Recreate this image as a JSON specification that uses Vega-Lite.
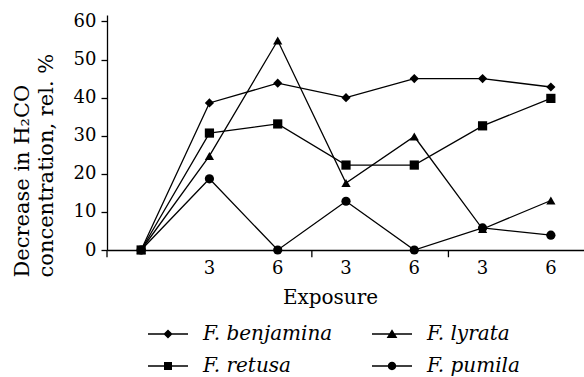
{
  "$schema": "https://vega.github.io/schema/vega-lite/v6.json",
  "autosize": "none",
  "width": 478,
  "height": 235,
  "padding": {"left": 107, "top": 15, "right": 0, "bottom": 127},
  "background": "white",
  "config": {
    "view": {"stroke": null},
    "font": "DejaVu Serif",
    "axis": {"domainColor": "black", "domainWidth": 1.3, "tickColor": "black", "labelColor": "black", "titleColor": "black", "labelFont": "DejaVu Serif", "titleFont": "DejaVu Serif", "titleFontWeight": "normal", "grid": false}
  },
  "datasets": {
    "series": [
      {"species": "F. benjamina", "exposure": "start", "value": 0},
      {"species": "F. benjamina", "exposure": "3a", "value": 38.6},
      {"species": "F. benjamina", "exposure": "6a", "value": 43.8},
      {"species": "F. benjamina", "exposure": "3b", "value": 40},
      {"species": "F. benjamina", "exposure": "6b", "value": 45},
      {"species": "F. benjamina", "exposure": "3c", "value": 45},
      {"species": "F. benjamina", "exposure": "6c", "value": 42.8},
      {"species": "F. lyrata", "exposure": "start", "value": 0},
      {"species": "F. lyrata", "exposure": "3a", "value": 24.7},
      {"species": "F. lyrata", "exposure": "6a", "value": 55},
      {"species": "F. lyrata", "exposure": "3b", "value": 17.6},
      {"species": "F. lyrata", "exposure": "6b", "value": 29.8},
      {"species": "F. lyrata", "exposure": "3c", "value": 5.5},
      {"species": "F. lyrata", "exposure": "6c", "value": 13},
      {"species": "F. retusa", "exposure": "start", "value": 0},
      {"species": "F. retusa", "exposure": "3a", "value": 30.7},
      {"species": "F. retusa", "exposure": "6a", "value": 33.1},
      {"species": "F. retusa", "exposure": "3b", "value": 22.3},
      {"species": "F. retusa", "exposure": "6b", "value": 22.3},
      {"species": "F. retusa", "exposure": "3c", "value": 32.6},
      {"species": "F. retusa", "exposure": "6c", "value": 39.8},
      {"species": "F. pumila", "exposure": "start", "value": 0},
      {"species": "F. pumila", "exposure": "3a", "value": 18.7},
      {"species": "F. pumila", "exposure": "6a", "value": 0},
      {"species": "F. pumila", "exposure": "3b", "value": 12.8},
      {"species": "F. pumila", "exposure": "6b", "value": 0},
      {"species": "F. pumila", "exposure": "3c", "value": 5.8},
      {"species": "F. pumila", "exposure": "6c", "value": 3.9}
    ],
    "ticks": [
      {"exposure": "start"},
      {"exposure": "3b"},
      {"exposure": "3c"}
    ]
  },
  "layer": [
    {
      "data": {"name": "ticks"},
      "mark": {"type": "rule", "color": "black", "strokeWidth": 1.3},
      "encoding": {
        "x": {"field": "exposure", "type": "ordinal", "bandPosition": 0},
        "y": {"datum": 0, "type": "quantitative"},
        "y2": {"datum": -1.9}
      }
    },
    {
      "data": {"name": "series"},
      "mark": {"type": "line", "color": "black", "strokeWidth": 1.3},
      "encoding": {
        "x": {"field": "exposure", "type": "ordinal", "sort": null},
        "y": {"field": "value", "type": "quantitative"},
        "detail": {"field": "species"}
      }
    },
    {
      "data": {"name": "series"},
      "mark": {"type": "point", "filled": true, "color": "black", "opacity": 1, "size": 85},
      "encoding": {
        "x": {"field": "exposure", "type": "ordinal"},
        "y": {"field": "value", "type": "quantitative"},
        "shape": {
          "field": "species",
          "type": "nominal",
          "scale": {"domain": ["F. benjamina", "F. lyrata", "F. retusa", "F. pumila"], "range": ["diamond", "triangle-up", "square", "circle"]},
          "legend": null
        }
      }
    },
    {
      "data": {"name": "series"},
      "transform": [{"filter": "datum.value < 0"}],
      "mark": {"type": "point", "filled": true, "color": "black", "opacity": 1},
      "encoding": {
        "x": {"field": "exposure", "type": "ordinal"},
        "y": {"field": "value", "type": "quantitative"},
        "shape": {
          "field": "species",
          "type": "nominal",
          "scale": {
            "domain": ["F. benjamina", "F. lyrata", "F. retusa", "F. pumila"],
            "range": [
              "M-1,-0.04H1V0.04H-1ZM0,-0.23L0.23,0L0,0.23L-0.23,0Z",
              "M-1,-0.04H1V0.04H-1ZM0,-0.24L0.27,0.2L-0.27,0.2Z",
              "M-1,-0.04H1V0.04H-1ZM-0.2,-0.2H0.2V0.2H-0.2Z",
              "M-1,-0.04H1V0.04H-1ZM-0.21,0A0.21,0.21 0 1,1 0.21,0A0.21,0.21 0 1,1 -0.21,0Z"
            ]
          },
          "legend": {
            "title": null,
            "orient": "none",
            "direction": "horizontal",
            "legendX": 40,
            "legendY": 298,
            "columns": 2,
            "padding": 0,
            "columnPadding": 36,
            "rowPadding": 1,
            "symbolSize": 1600,
            "symbolFillColor": "black",
            "symbolOpacity": 1,
            "labelFont": "DejaVu Serif",
            "labelFontStyle": "italic",
            "labelFontSize": 20,
            "labelColor": "black",
            "labelOffset": 14,
            "labelLimit": 300
          }
        }
      }
    }
  ],
  "resolve": {"scale": {"x": "shared", "y": "shared", "shape": "independent"}},
  "encoding": {
    "x": {
      "field": "exposure",
      "type": "ordinal",
      "scale": {"type": "band", "domain": ["start", "3a", "6a", "3b", "6b", "3c", "6c"], "paddingInner": 0, "paddingOuter": 0},
      "axis": {
        "title": "Exposure",
        "labelExpr": "datum.value == 'start' ? '' : substring(datum.value, 0, 1)",
        "labelAngle": 0,
        "ticks": false,
        "labelPadding": 9,
        "labelFontSize": 18,
        "titleFontSize": 20,
        "titleX": 223,
        "titleY": 53,
        "titleBaseline": "alphabetic",
        "titleAnchor": null,
        "titleAlign": "center"
      }
    },
    "y": {
      "type": "quantitative",
      "scale": {"domain": [0, 61.7], "nice": false, "zero": false},
      "axis": {
        "title": ["Decrease in H₂CO", "concentration, rel. %"],
        "values": [0, 10, 20, 30, 40, 50, 60],
        "tickSize": 6,
        "tickWidth": 1.3,
        "labelPadding": 5,
        "labelFontSize": 18,
        "titleFontSize": 21,
        "titleLineHeight": 24,
        "titleAngle": -90,
        "titleAlign": "left",
        "titleBaseline": "top",
        "titleX": -96,
        "titleY": 262
      }
    }
  }
}
